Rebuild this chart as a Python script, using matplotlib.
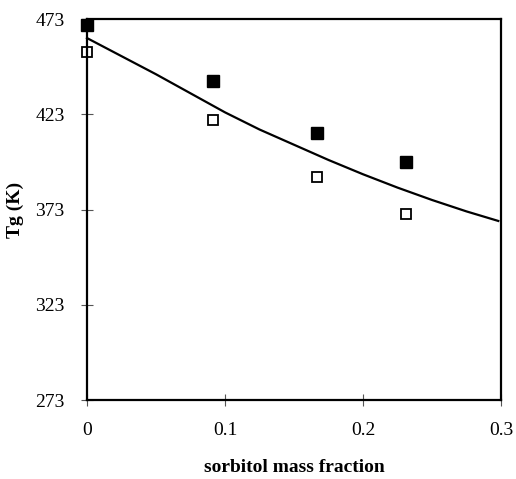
import matplotlib
matplotlib.use("Agg")
import matplotlib.pyplot as plt

# measured Tg values (K) vs sorbitol mass fraction
filledX = [0.0, 0.091, 0.167, 0.231]
filledTg = [470, 440.5, 413, 398]
openX = [0.0, 0.091, 0.167, 0.231]
openTg = [455.5, 420, 390, 370.5]

# fitted curve
curveX = [0.0, 0.025, 0.05, 0.075, 0.1, 0.125, 0.15, 0.175, 0.2, 0.225, 0.25, 0.275, 0.298]
curveTg = [463, 453.5, 444, 434, 424, 415, 407, 399, 391.5, 384.5, 378, 372, 367]

xTicks = [0, 0.1, 0.2, 0.3]
xTickLabels = ['0', '0.1', '0.2', '0.3']
yTicks = [273, 323, 373, 423, 473]

plt.rcParams['font.family'] = ['Liberation Serif', 'DejaVu Serif']

fig = plt.figure(figsize=(5.16, 4.79), dpi=100)
ax = fig.add_axes([0.1686, 0.1649, 0.8024, 0.7954])

ax.plot(curveX, curveTg, color='black', linewidth=1.6, clip_on=False)
ax.plot(filledX, filledTg, linestyle='none', marker='s', markersize=8,
        markerfacecolor='black', markeredgecolor='black', clip_on=False)
ax.plot(openX, openTg, linestyle='none', marker='s', markersize=7,
        markerfacecolor='white', markeredgecolor='black', markeredgewidth=1.3,
        clip_on=False)

ax.set_xlim(0, 0.3)
ax.set_ylim(273, 473)
ax.set_xticks(xTicks)
ax.set_xticklabels(xTickLabels)
ax.set_yticks(yTicks)

for side in ['left', 'right', 'top', 'bottom']:
    ax.spines[side].set_linewidth(1.6)
ax.tick_params(direction='inout', length=8, width=0.8, color='#555555',
               labelsize=14, pad=12)

ax.set_xlabel('sorbitol mass fraction', fontsize=14, fontweight='bold', labelpad=14)
ax.set_ylabel('Tg (K)', fontsize=14, fontweight='bold', labelpad=8)

plt.savefig('out.png', dpi=100)
plt.close()
